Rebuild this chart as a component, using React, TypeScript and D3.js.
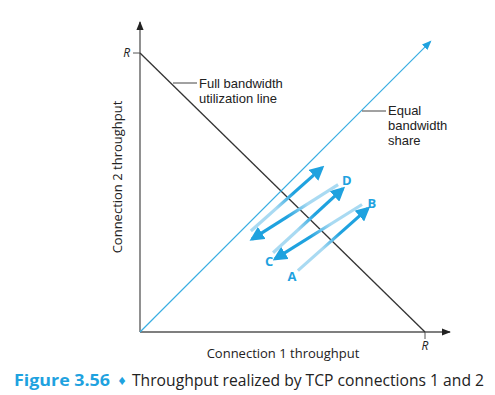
import React from "react";
import * as d3 from "d3";

// throughput trajectory (units of R): each move is one arrow
const moveNames = ["AB", "BC", "CD", "DE", "EF"];
const moveX0 = [0.554, 0.779, 0.467, 0.695, 0.389];
const moveY0 = [0.22, 0.457, 0.284, 0.528, 0.362];
const moveX1 = [0.8, 0.474, 0.712, 0.393, 0.639];
const moveY1 = [0.443, 0.262, 0.514, 0.333, 0.589];

const pointLabels = ["A", "B", "C", "D"];
const pointX = [0.533, 0.814, 0.453, 0.726];
const pointY = [0.199, 0.461, 0.255, 0.546];

const fullLabel = ["Full bandwidth", "utilization line"];
const equalLabel = ["Equal", "bandwidth", "share"];
const xLabel = "Connection 1 throughput";
const yLabel = "Connection 2 throughput";
const captionNum = "Figure 3.56";
const captionText = "Throughput realized by TCP connections 1 and 2";

const W = 495;
const H = 395;
const font = "'Open Sans', 'Noto Sans', sans-serif";
const noteFont = "'Liberation Sans', Arial, sans-serif";
const blue = "#1fa2df";
const lightBlue = "#a9daf2";
const axisColor = "#555";

export default function App() {
  const x = d3.scaleLinear().domain([0, 1]).range([140, 425]);
  const y = d3.scaleLinear().domain([0, 1]).range([332, 53]);

  const line = d3.line<[number, number]>().x((d) => x(d[0])).y((d) => y(d[1]));

  return (
    <svg
      width={W}
      height={H}
      style={{ position: "absolute", left: 0, top: 0, background: "#fff" }}
      fontFamily={font}
    >
      <defs>
        <marker id="axisHead" viewBox="0 0 10 10" refX="9" refY="5" markerWidth="7" markerHeight="7" orient="auto">
          <path d="M0,1 L10,5 L0,9 Z" fill="#222" />
        </marker>
        <marker id="blueHead" viewBox="0 0 10 10" refX="8" refY="5" markerWidth="4.5" markerHeight="4.5" orient="auto">
          <path d="M0,0 L10,5 L0,10 Z" fill={blue} />
        </marker>
        <marker id="equalHead" viewBox="0 0 10 10" refX="8" refY="5" markerWidth="8" markerHeight="8" orient="auto">
          <path d="M0,1 L10,5 L0,9 Z" fill={blue} />
        </marker>
        {moveNames.map((n, i) => (
          <linearGradient
            key={n}
            id={"g" + n}
            gradientUnits="userSpaceOnUse"
            x1={x(moveX0[i])}
            y1={y(moveY0[i])}
            x2={x(moveX1[i])}
            y2={y(moveY1[i])}
          >
            <stop offset="0" stopColor={lightBlue} />
            <stop offset="0.35" stopColor={lightBlue} />
            <stop offset="0.6" stopColor={blue} />
            <stop offset="1" stopColor={blue} />
          </linearGradient>
        ))}
      </defs>

      {/* axes */}
      <line x1={x(0)} y1={y(0)} x2={x(0)} y2={22} stroke={axisColor} strokeWidth={1.3} markerEnd="url(#axisHead)" />
      <line x1={x(0)} y1={y(0)} x2={450} y2={y(0)} stroke={axisColor} strokeWidth={1.3} markerEnd="url(#axisHead)" />
      <line x1={x(0) - 7} y1={y(1)} x2={x(0)} y2={y(1)} stroke={axisColor} strokeWidth={1} />
      <line x1={x(1)} y1={y(0)} x2={x(1)} y2={y(0) + 7} stroke={axisColor} strokeWidth={1} />
      <text x={x(0) - 10} y={y(1) + 4} fontSize={12} fontStyle="italic" textAnchor="end" fill="#222">R</text>
      <text x={x(1)} y={y(0) + 18} fontSize={12} fontStyle="italic" textAnchor="middle" fill="#222">R</text>

      {/* full bandwidth utilization line */}
      <path d={line([[0, 1], [1, 0]]) || ""} stroke="#333" strokeWidth={1.3} fill="none" />
      {/* equal bandwidth share */}
      <path d={line([[0, 0], [1.018, 1.04]]) || ""} stroke="#3aaee2" strokeWidth={1.2} fill="none" markerEnd="url(#equalHead)" />

      {/* annotations */}
      <line x1={173} y1={83} x2={197} y2={83} stroke="#444" strokeWidth={1} />
      {fullLabel.map((t, i) => (
        <text key={t} x={199} y={88 + i * 15} fontSize={13} fontFamily={noteFont} fill="#222">{t}</text>
      ))}
      <line x1={362} y1={111} x2={386} y2={111} stroke="#444" strokeWidth={1} />
      {equalLabel.map((t, i) => (
        <text key={t} x={388} y={115 + i * 15} fontSize={13} fontFamily={noteFont} fill="#222">{t}</text>
      ))}

      {/* trajectory arrows */}
      {moveNames.map((n, i) => (
        <path
          key={n}
          d={line([[moveX0[i], moveY0[i]], [moveX1[i], moveY1[i]]]) || ""}
          stroke={`url(#g${n})`}
          strokeWidth={3.2}
          fill="none"
          markerEnd="url(#blueHead)"
        />
      ))}
      {pointLabels.map((p, i) => (
        <text
          key={p}
          x={x(pointX[i])}
          y={y(pointY[i]) + 5}
          fontSize={13}
          fontWeight="bold"
          textAnchor="middle"
          fill={blue}
        >
          {p}
        </text>
      ))}

      {/* axis titles */}
      <text x={283} y={358} fontSize={13} textAnchor="middle" fill="#222">{xLabel}</text>
      <text
        transform={`translate(122,177) rotate(-90)`}
        fontSize={13}
        textAnchor="middle"
        fill="#222"
      >
        {yLabel}
      </text>

      {/* caption */}
      <text x={14} y={386} fontSize={16} fontWeight="bold" fill={blue} textLength={96} lengthAdjust="spacingAndGlyphs">
        {captionNum}
      </text>
      <text x={122} y={385} fontSize={14} textAnchor="middle" fill={blue}>♦</text>
      <text x={132} y={386} fontSize={15.5} fill="#222" textLength={352} lengthAdjust="spacingAndGlyphs">
        {captionText}
      </text>
    </svg>
  );
}
